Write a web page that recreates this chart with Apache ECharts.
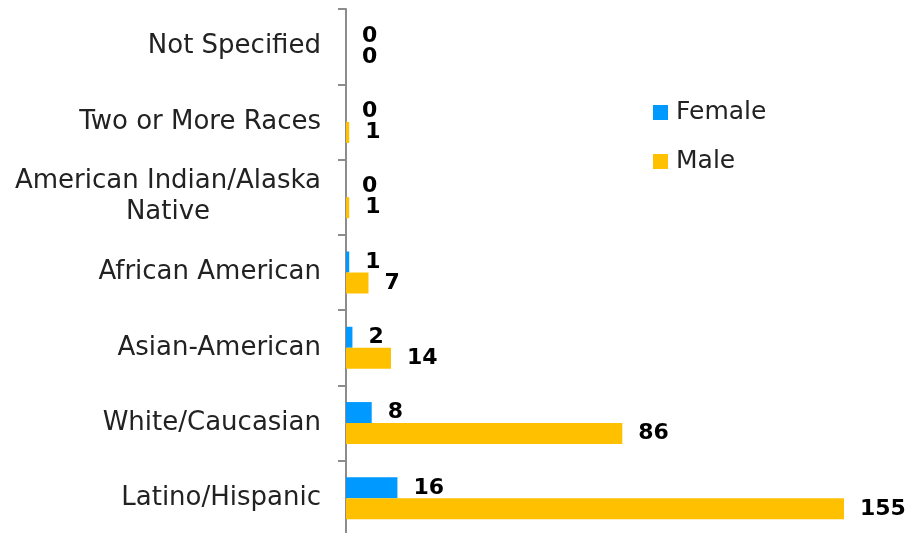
<!DOCTYPE html>
<html>
<head>
<meta charset="utf-8">
<script src="https://cdn.jsdelivr.net/npm/echarts@6/dist/echarts.min.js"></script>
<style>
  html, body { margin: 0; padding: 0; background: #fff; }
  #chart { width: 906px; height: 533px; }
</style>
</head>
<body>
<div id="chart"></div>
<script>
// categories bottom -> top
const categories = [
  'Latino/Hispanic',
  'White/Caucasian',
  'Asian-American',
  'African American',
  'American Indian/Alaska\nNative',
  'Two or More Races',
  'Not Specified'
]
const femaleValues = [16, 8, 2, 1, 0, 0, 0]
const maleValues = [155, 86, 14, 7, 1, 1, 0]

const labelStyle = {
  show: true,
  position: 'right',
  distance: 16,
  color: '#000',
  fontFamily: 'DejaVu Sans',
  fontWeight: 'bold',
  fontSize: 22
}

const chart = echarts.init(document.getElementById('chart'))
chart.setOption({
  animation: false,
  textStyle: { fontFamily: 'DejaVu Sans' },
  legend: {
    orient: 'vertical',
    left: 648,
    top: 95,
    itemWidth: 15,
    itemHeight: 15,
    itemGap: 24,
    icon: 'rect',
    data: ['Female', 'Male'],
    textStyle: { fontSize: 25, color: '#222', fontFamily: 'DejaVu Sans', padding: [0, 0, 0, 3] }
  },
  grid: {
    left: 346,
    top: 9,
    width: 498,
    height: 527,
    outerBoundsMode: 'none'
  },
  xAxis: {
    type: 'value',
    min: 0,
    max: 155,
    show: false
  },
  yAxis: {
    type: 'category',
    data: categories,
    axisLine: { show: true, lineStyle: { color: '#8c8c8c', width: 2 } },
    axisTick: { show: true, length: 8, lineStyle: { color: '#8c8c8c', width: 2 } },
    axisLabel: {
      margin: 25,
      fontSize: 26,
      color: '#222',
      fontFamily: 'DejaVu Sans',
      lineHeight: 31,
      // two-line label: lines centred on each other
      formatter: v => v.indexOf('\n') < 0 ? v : v.split('\n').map(s => '{c|' + s + '}').join('\n'),
      rich: {
        c: { width: 306, align: 'center', fontSize: 26, lineHeight: 31, color: '#222', fontFamily: 'DejaVu Sans' }
      }
    }
  },
  series: [
    {
      name: 'Female',
      type: 'bar',
      data: femaleValues,
      itemStyle: { color: '#0099FF' },
      barWidth: 21,
      barGap: '0%',
      label: labelStyle
    },
    {
      name: 'Male',
      type: 'bar',
      data: maleValues,
      itemStyle: { color: '#FFC000' },
      barWidth: 21,
      barGap: '0%',
      label: labelStyle
    }
  ]
})
</script>
</body>
</html>
